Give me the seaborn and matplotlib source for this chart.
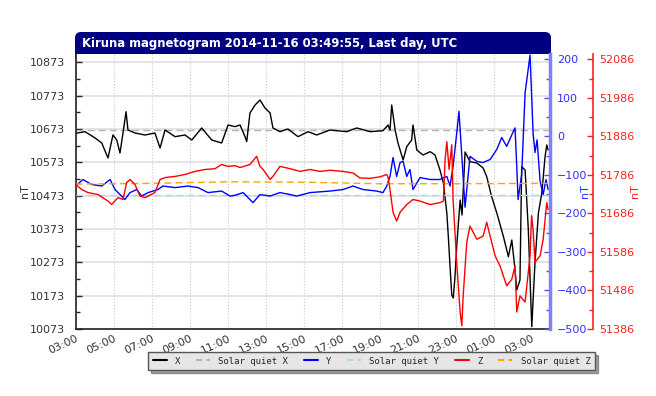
import matplotlib
matplotlib.use("Agg")
import numpy as np
import matplotlib.pyplot as plt
import seaborn as sns
from matplotlib.lines import Line2D
from matplotlib.patches import FancyBboxPatch
from matplotlib.ticker import FixedLocator, MultipleLocator, FuncFormatter
from matplotlib.transforms import IdentityTransform

# hours after 03:00 on 2014-11-15
x_hours = [0.0, 0.49, 1.02, 1.37, 1.70, 1.96, 2.16, 2.33, 2.49, 2.65, 2.75, 3.12, 3.65, 4.17,
           4.44, 4.70, 5.23, 5.75, 6.11, 6.63, 7.16, 7.68, 8.02, 8.38, 8.65, 8.91, 9.0, 9.17,
           9.44, 9.70, 9.96, 10.23, 10.38, 10.75, 11.17, 11.70, 12.23, 12.68, 13.38, 14.26,
           14.79, 15.49, 16.17, 16.44, 16.54, 16.63, 16.81, 16.96, 17.23, 17.42, 17.68, 17.75,
           17.95, 18.28, 18.65, 18.91, 19.17, 19.35, 19.53, 19.61, 19.70, 19.79, 19.87, 19.96,
           20.05, 20.23, 20.33, 20.49, 20.75, 21.11, 21.44, 21.63, 21.89, 22.16, 22.51, 22.77,
           22.95, 23.12, 23.21, 23.38, 23.47, 23.65, 23.82, 24.0, 24.17, 24.35, 24.53, 24.70,
           24.79, 24.86]
x_vals = [10660, 10665, 10646, 10631, 10586, 10655, 10640, 10601, 10661, 10725, 10670, 10661,
          10655, 10661, 10616, 10670, 10650, 10655, 10640, 10676, 10640, 10631, 10685, 10680,
          10685, 10650, 10635, 10721, 10745, 10760, 10736, 10721, 10676, 10665, 10673, 10650,
          10665, 10655, 10670, 10665, 10676, 10665, 10668, 10685, 10670, 10745, 10670, 10631,
          10580, 10620, 10640, 10685, 10610, 10595, 10605, 10595, 10550, 10511, 10421, 10350,
          10260, 10175, 10166, 10230, 10320, 10460, 10415, 10604, 10575, 10571, 10556, 10530,
          10470, 10421, 10350, 10290, 10340, 10250, 10190, 10220, 10560, 10550, 10370, 10080,
          10271, 10421, 10481, 10590, 10625, 10610]

y_hours = [0.0, 0.38, 0.84, 1.37, 1.81, 2.07, 2.59, 2.86, 3.21, 3.47, 3.81, 4.33, 4.59, 5.23,
           5.91, 6.44, 6.96, 7.68, 8.12, 8.38, 8.81, 9.33, 9.70, 10.23, 10.75, 11.28, 11.63,
           12.33, 13.38, 14.07, 14.59, 15.12, 15.84, 16.17, 16.37, 16.54, 16.70, 16.89, 17.07,
           17.23, 17.42, 17.59, 17.75, 18.12, 18.65, 19.17, 19.53, 19.70, 19.86, 20.07, 20.17,
           20.32, 20.49, 20.75, 21.11, 21.44, 21.81, 22.16, 22.42, 22.68, 22.95, 23.12, 23.21,
           23.28, 23.47, 23.65, 23.91, 24.07, 24.17, 24.28, 24.44, 24.60, 24.75, 24.86]
y_vals = [-129, -112, -125, -129, -112, -138, -164, -146, -138, -155, -146, -138, -129, -133,
          -129, -133, -146, -142, -155, -153, -146, -172, -151, -155, -146, -151, -155, -146,
          -142, -138, -129, -138, -142, -146, -129, -104, -55, -104, -68, -65, -104, -86, -138,
          -107, -112, -112, -104, -129, -78, 17, 65, -52, -184, -52, -65, -68, -60, -34, -3,
          -26, 4, 22, -78, -164, -99, 113, 211, 9, -42, -9, -117, -151, -112, -138]

z_hours = [0.0, 0.32, 0.65, 1.17, 1.70, 1.89, 2.23, 2.49, 2.68, 2.86, 3.12, 3.38, 3.65, 4.17,
           4.44, 4.70, 5.23, 5.75, 6.28, 6.81, 7.33, 7.68, 8.02, 8.38, 8.65, 9.17, 9.52, 9.70,
           9.86, 10.05, 10.23, 10.38, 10.75, 11.28, 11.81, 12.33, 12.86, 13.38, 14.07, 14.59,
           14.96, 15.49, 16.02, 16.37, 16.44, 16.54, 16.70, 16.89, 17.07, 17.42, 17.75, 18.12,
           18.65, 19.17, 19.35, 19.44, 19.53, 19.65, 19.79, 19.86, 20.05, 20.23, 20.32, 20.39,
           20.58, 20.75, 21.11, 21.44, 21.63, 21.81, 22.07, 22.33, 22.68, 22.95, 23.12, 23.21,
           23.38, 23.65, 23.91, 23.99, 24.07, 24.17, 24.44, 24.60, 24.79, 24.86]
z_vals = [51761, 51748, 51740, 51735, 51718, 51709, 51727, 51722, 51766, 51774, 51761, 51731,
          51727, 51740, 51774, 51779, 51782, 51787, 51795, 51800, 51802, 51813, 51808, 51810,
          51805, 51813, 51834, 51808, 51800, 51787, 51774, 51782, 51808, 51802, 51795, 51800,
          51795, 51798, 51795, 51791, 51778, 51777, 51781, 51787, 51779, 51748, 51689, 51666,
          51689, 51709, 51722, 51718, 51709, 51714, 51718, 51826, 51872, 51800, 51864, 51722,
          51559, 51430, 51394, 51472, 51611, 51653, 51619, 51627, 51663, 51627, 51576, 51550,
          51498, 51515, 51550, 51430, 51472, 51456, 51576, 51680, 51645, 51559, 51576, 51619,
          51714, 51696]

quiet_hours = [0.0, 4.0, 8.0, 12.0, 16.0, 20.0, 24.86]
quiet_x = [10670, 10670, 10670, 10670, 10670, 10670, 10670]
quiet_y = [-151, -151, -151, -151, -151, -151, -151]
quiet_z = [51762, 51764, 51768, 51767, 51763, 51763, 51764]

legend_labels = ["X", "Solar quiet X", "Y", "Solar quiet Y", "Z", "Solar quiet Z"]
title = "Kiruna magnetogram 2014-11-16 03:49:55, Last day, UTC"

sns.set_style("white")
plt.rcParams['font.family'] = ['DejaVu Sans']

W, H = 656, 396
fig = plt.figure(figsize=(W / 100, H / 100), dpi=100)
left, right, top, bottom = 75.7, 550, 54, 329
ax = fig.add_axes([left / W, 1 - bottom / H, (right - left) / W, (bottom - top) / H])
ax2 = ax.twinx()
ax3 = ax.twinx()

c_x, c_y, c_z = "black", "#0000ff", "#ff0000"
c_qx, c_qy, c_qz = "#b4b4b4", "#a8d8ea", "#ffa500"

sns.lineplot(x=quiet_hours, y=quiet_x, ax=ax, color=c_qx, lw=1, linestyle=(0, (5, 3)), estimator=None)
sns.lineplot(x=x_hours, y=x_vals, ax=ax, color=c_x, lw=1, estimator=None)
sns.lineplot(x=quiet_hours, y=quiet_y, ax=ax2, color=c_qy, lw=1, linestyle=(0, (5, 3)), estimator=None)
sns.lineplot(x=y_hours, y=y_vals, ax=ax2, color=c_y, lw=1, estimator=None)
sns.lineplot(x=quiet_hours, y=quiet_z, ax=ax3, color=c_qz, lw=1, linestyle=(0, (5, 3)), estimator=None)
sns.lineplot(x=z_hours, y=z_vals, ax=ax3, color=c_z, lw=1, estimator=None)

ax.set_xlim(0, 24.96)
ax.set_ylim(10073, 10898)
ax2.set_ylim(-500, 213.7)
ax3.set_ylim(51386, 52099.7)

# x axis: hourly minor ticks, 2-hourly labels
ax.xaxis.set_major_locator(MultipleLocator(2))
ax.xaxis.set_minor_locator(MultipleLocator(1))
ax.xaxis.set_major_formatter(FuncFormatter(lambda v, p: "%02d:00" % ((3 + int(round(v))) % 24)))
ax.tick_params(axis="x", which="major", direction="in", length=4, width=1, labelsize=8,
               labelcolor="#333333", pad=3)
ax.tick_params(axis="x", which="minor", direction="in", length=3, width=1)
plt.setp(ax.get_xticklabels(), rotation=25, ha="right", rotation_mode="anchor")

ax.set_yticks(np.arange(10073, 10874, 100))
ax.yaxis.set_minor_locator(FixedLocator(np.arange(10123, 10899, 100)))
ax.tick_params(axis="y", which="major", direction="in", length=4, width=1, labelsize=8,
               labelcolor="#333333", pad=8)
ax.tick_params(axis="y", which="minor", direction="in", length=3, width=1)

ax2.yaxis.set_major_locator(MultipleLocator(100))
ax2.yaxis.set_minor_locator(MultipleLocator(50))
ax2.tick_params(axis="y", which="major", direction="in", length=4, width=1, colors="#5050ff",
                labelsize=8, labelcolor="#3030ff", pad=5)
ax2.tick_params(axis="y", which="minor", direction="in", length=3, width=1, colors="#5050ff")

ax3.set_yticks(np.arange(51386, 52087, 100))
ax3.yaxis.set_minor_locator(FixedLocator(np.arange(51436, 52100, 100)))
ax3.tick_params(axis="y", which="major", direction="in", length=4, width=1, colors="#ff2020",
                labelsize=8, labelcolor="#ff2020", pad=5)
ax3.tick_params(axis="y", which="minor", direction="in", length=3, width=1, colors="#ff2020")

ax.grid(axis="y", color="#e2e2e2", lw=1.3, ls="-")
ax.grid(axis="x", color="#c8c8c8", lw=0.8, ls=":")
ax.set_axisbelow(True)

for a in (ax, ax2, ax3):
    a.set_xlabel("")
    for s in a.spines.values():
        s.set_visible(False)
ax.spines["left"].set_visible(True)
ax.spines["bottom"].set_visible(True)
ax.spines["left"].set_color("#222222")
ax.spines["bottom"].set_color("#222222")
ax.spines["left"].set_linewidth(1.2)
ax.spines["bottom"].set_linewidth(1.2)
ax2.spines["right"].set_visible(True)
ax2.spines["right"].set_color("#8080ff")
ax2.spines["right"].set_linewidth(2.5)
ax3.spines["right"].set_visible(True)
ax3.spines["right"].set_position(("axes", 1 + 42.7 / (right - left)))
ax3.spines["right"].set_color("#ff2020")
ax3.spines["right"].set_linewidth(1.2)

ax.set_ylabel("nT", fontsize=8, color="#333333")
ax.yaxis.set_label_coords((30 - left) / (right - left), 0.5)
ax2.set_ylabel("nT", fontsize=8, color="#3030ff")
ax2.yaxis.set_label_coords((580 - left) / (right - left), 0.5)
ax3.set_ylabel("nT", fontsize=8, color="#ff2020")
ax3.yaxis.set_label_coords((630 - left) / (right - left), 0.5)

# title banner
banner = FancyBboxPatch((75, H - 62), 476, 30, boxstyle="round,pad=0,rounding_size=6",
                        transform=IdentityTransform(), facecolor="#000080", edgecolor="none",
                        zorder=-1)
fig.patches.append(banner)
fig.text(82 / W, 1 - 43 / H, title, color="white", fontsize=8.4, fontweight="bold",
         ha="left", va="center")

handles = [
    Line2D([], [], color=c_x, lw=1.5),
    Line2D([], [], color=c_qx, lw=1.5, ls=(0, (3, 2))),
    Line2D([], [], color=c_y, lw=1.5),
    Line2D([], [], color=c_qy, lw=1.5, ls=(0, (3, 2))),
    Line2D([], [], color=c_z, lw=1.5),
    Line2D([], [], color=c_qz, lw=1.5, ls=(0, (3, 2))),
]
leg = fig.legend(handles, legend_labels, ncol=6, loc="center",
                 bbox_to_anchor=(371.5 / W, 1 - 361 / H), frameon=True, fancybox=False,
                 shadow=True, prop={"family": "DejaVu Sans Mono", "size": 6.5},
                 handlelength=1.6, handletextpad=0.9, columnspacing=1.7, borderpad=0.5)
leg.get_frame().set_facecolor("#e6e6e6")
leg.get_frame().set_edgecolor("#555555")
leg.get_frame().set_linewidth(1)

fig.savefig("out.png", dpi=100)
